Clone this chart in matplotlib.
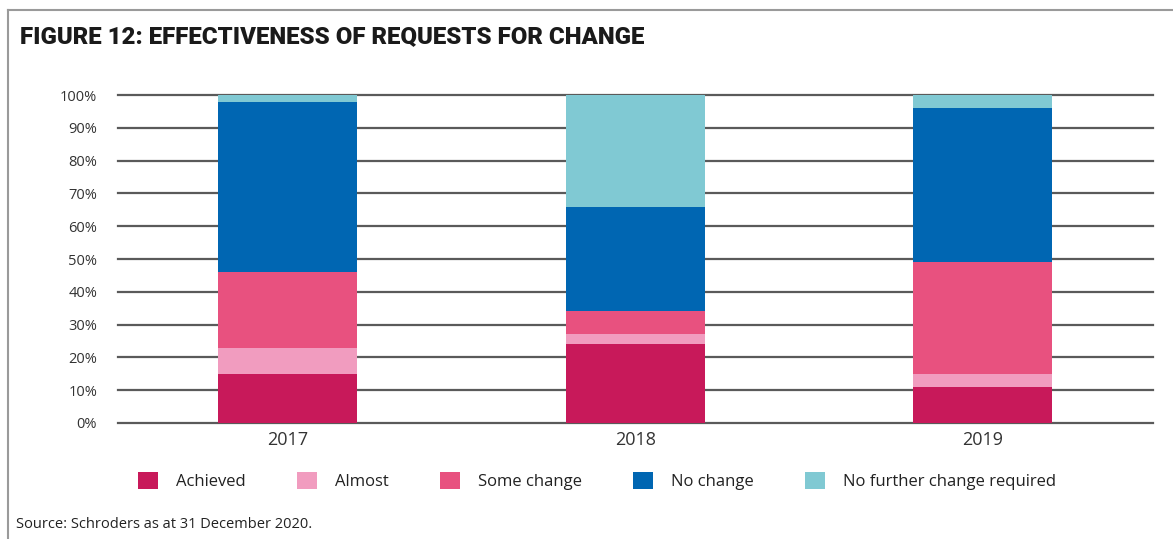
import matplotlib.pyplot as plt
from matplotlib.patches import Patch
from matplotlib.lines import Line2D

years = ["2017", "2018", "2019"]
series = ["Achieved", "Almost", "Some change", "No change", "No further change required"]
achieved = [15, 24, 11]
almost = [8, 3, 4]
some_change = [23, 7, 34]
no_change = [52, 32, 47]
no_further = [2, 34, 4]
colors = ["#C8195A", "#F19CBF", "#E8517F", "#0066B2", "#80C9D3"]
yticks = [0, 10, 20, 30, 40, 50, 60, 70, 80, 90, 100]

plt.rcParams['font.family'] = ['Open Sans', 'DejaVu Sans']

W, H = 1173, 539
fig = plt.figure(figsize=(W / 100, H / 100), dpi=100)
ax = fig.add_axes([118 / W, 1 - 423 / H, (1153 - 118) / W, (423 - 95) / H])

# gridlines behind bars
for t in yticks:
    ax.axhline(t, color="#5a5a5a", lw=1.6, zorder=1, clip_on=False)

x = list(range(len(years)))
bottom = [0, 0, 0]
for vals, name, c in zip([achieved, almost, some_change, no_change, no_further], series, colors):
    ax.bar(x, vals, width=0.4, bottom=bottom, color=c, label=name, zorder=2)
    bottom = [b + v for b, v in zip(bottom, vals)]

ax.set_xlim(-0.487, 2.489)
ax.set_ylim(0, 100)
ax.set_yticks(yticks)
ax.set_yticklabels([f"{t}%" for t in yticks], fontsize=10.5, color="#333333")
ax.set_xticks(x)
ax.set_xticklabels(years, fontsize=13, color="#333333")
ax.tick_params(axis="y", length=0, pad=15)
ax.tick_params(axis="x", length=0, pad=6)
for s in ax.spines.values():
    s.set_visible(False)

# legend
handles = [Patch(facecolor=c, edgecolor="none") for c in colors]
fig.legend(handles, series, loc="center", bbox_to_anchor=(597 / W, 1 - 481 / H),
           ncol=5, frameon=False, fontsize=12, handlelength=1.2, handleheight=1.2,
           handletextpad=1.1, columnspacing=3.05, labelcolor="#222222")

# frame lines (top and left)
fig.add_artist(Line2D([8 / W, 1], [1 - 10 / H, 1 - 10 / H], color="#9a9a9a", lw=1.5))
fig.add_artist(Line2D([8 / W, 8 / W], [0, 1 - 10 / H], color="#9a9a9a", lw=1.5))

fig.text(20 / W, 1 - 37 / H, "FIGURE 12: EFFECTIVENESS OF REQUESTS FOR CHANGE",
         fontsize=17.3, fontweight="heavy", family=["Roboto", "DejaVu Sans"],
         color="#1a1a1a", va="center", ha="left")
fig.text(16 / W, 1 - 525 / H, "Source: Schroders as at 31 December 2020.",
         fontsize=10.5, color="#222222", va="center", ha="left")

fig.savefig("out.png", dpi=100)
